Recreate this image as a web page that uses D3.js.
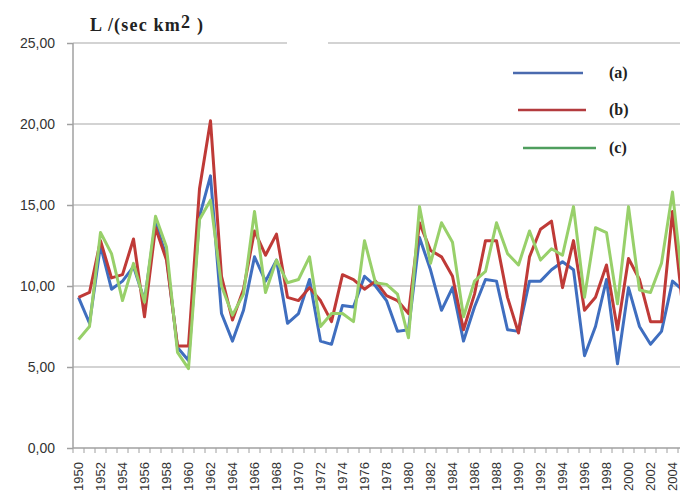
<!DOCTYPE html>
<html><head><meta charset="utf-8">
<script src="https://cdn.jsdelivr.net/npm/d3@7"></script>
<style>body{margin:0;background:#fff}svg{display:block}</style>
</head><body><svg id="c" width="680" height="500"></svg>
<script>
const years = d3.range(1950, 2006);
const seriesA = [9.3,7.7,12.5,9.8,10.3,11.2,9.1,13.9,11.8,6.2,5.4,14.3,16.8,8.3,6.6,8.5,11.8,10.3,11.6,7.7,8.3,10.4,6.6,6.4,8.8,8.7,10.6,10.0,9.1,7.2,7.3,13.0,11.0,8.5,9.9,6.6,8.7,10.4,10.3,7.3,7.2,10.3,10.3,11.0,11.5,11.0,5.7,7.5,10.4,5.2,9.9,7.5,6.4,7.2,10.3,9.7];
const seriesB = [9.3,9.6,12.8,10.5,10.7,12.9,8.1,13.6,11.6,6.3,6.3,16.0,20.2,10.6,7.9,9.8,13.4,11.9,13.2,9.3,9.1,9.9,9.1,7.8,10.7,10.4,9.8,10.3,9.4,9.1,8.3,13.9,12.2,11.8,10.6,7.3,9.5,12.8,12.8,9.3,7.1,11.8,13.5,14.0,9.9,12.8,8.5,9.3,11.3,7.3,11.7,10.4,7.8,7.8,14.6,8.2];
const seriesC = [6.7,7.5,13.3,12.0,9.1,11.4,9.0,14.3,12.4,5.9,4.9,14.1,15.3,10.0,8.2,9.5,14.6,9.6,11.6,10.2,10.4,11.8,7.5,8.3,8.3,7.8,12.8,10.2,10.1,9.5,6.8,14.9,11.4,13.9,12.7,8.1,10.3,10.9,13.9,12.0,11.3,13.4,11.6,12.3,11.9,14.9,9.3,13.6,13.3,8.9,14.9,9.75,9.6,11.4,15.8,9.6];
const yTicks = [0,5,10,15,20,25];
const labels = ["(a)","(b)","(c)"];
const lineColors = ["#3f6ebf","#bf3a37","#98d06a"];
const legendColors = ["#4a6aae","#b33b3e","#4f9e5e"];

const svg = d3.select("#c");
const x = d3.scaleBand().domain(years).range([73, 73 + years.length * 11]);
const y = d3.scaleLinear().domain([0, 25]).range([448, 43]);
const cx = d => x(d) + x.bandwidth() / 2;

// gridlines
svg.append("g").selectAll("line").data(yTicks.filter(d => d > 0)).join("line")
  .attr("x1", 73).attr("x2", 680).attr("y1", d => y(d)).attr("y2", d => y(d))
  .attr("stroke", "#c4c4c4").attr("stroke-width", 1.5);
svg.append("rect").attr("x", 287).attr("y", y(25) - 3).attr("width", 41).attr("height", 6).attr("fill", "#fff");

// y axis
const ya = svg.append("g").attr("transform", "translate(73,0)")
  .call(d3.axisLeft(y).tickValues(yTicks).tickSize(6).tickPadding(12)
    .tickFormat(d => d3.format(".2f")(d).replace(".", ",")));
ya.select(".domain").attr("stroke", "#a0a0a0").attr("stroke-width", 1.5).attr("d", "M0,43V448");
ya.selectAll(".tick line").attr("stroke", "#a0a0a0").attr("stroke-width", 1.5);
ya.selectAll("text").attr("font-family", "Liberation Sans, Arial, sans-serif").attr("font-size", 14).attr("fill", "#333");

// x axis
const xa = svg.append("g").attr("transform", "translate(0,448)");
xa.append("line").attr("x1", 73).attr("x2", 680).attr("stroke", "#a0a0a0").attr("stroke-width", 1.5);
xa.selectAll("line.t").data(years).join("line").attr("class", "t")
  .attr("x1", d => x(d)).attr("x2", d => x(d)).attr("y1", 0).attr("y2", 5)
  .attr("stroke", "#a0a0a0").attr("stroke-width", 1);
xa.selectAll("text").data(years.filter(d => (d - 1950) % 2 === 0)).join("text")
  .attr("transform", d => `translate(${cx(d) + 4.5},14) rotate(-90)`)
  .attr("text-anchor", "end")
  .attr("font-family", "Liberation Sans, Arial, sans-serif").attr("font-size", 13).attr("fill", "#333")
  .text(d => d);

// lines
const line = d3.line().x((d, i) => cx(years[i])).y(d => y(d));
[seriesA, seriesB, seriesC].forEach((s, i) => {
  svg.append("path").datum(s).attr("d", line).attr("fill", "none")
    .attr("stroke", lineColors[i]).attr("stroke-width", 3).attr("stroke-linejoin", "round");
});

// title
const t = svg.append("text").attr("x", 90).attr("y", 31)
  .attr("font-family", "Liberation Serif, Times New Roman, serif").attr("font-weight", "bold")
  .attr("font-size", 18).attr("letter-spacing", 1.2).attr("fill", "#222");
t.append("tspan").text("L /(sec  km");
t.append("tspan").attr("dy", -3).text("2");
t.append("tspan").attr("dy", 3).text(" )");

// legend
const leg = [{x1:513,x2:583,y:73},{x1:518,x2:586,y:110},{x1:523,x2:596,y:148}];
leg.forEach((l, i) => {
  svg.append("line").attr("x1", l.x1).attr("x2", l.x2).attr("y1", l.y).attr("y2", l.y)
    .attr("stroke", legendColors[i]).attr("stroke-width", 2.5);
  svg.append("text").attr("x", 609).attr("y", l.y + 5)
    .attr("font-family", "Liberation Serif, Times New Roman, serif").attr("font-weight", "bold")
    .attr("font-size", 16).attr("fill", "#222").text(labels[i]);
});
</script></body></html>
